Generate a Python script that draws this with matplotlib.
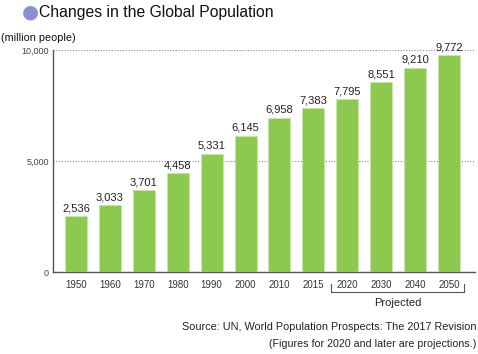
import matplotlib.pyplot as plt
import numpy as np

years = ['1950', '1960', '1970', '1980', '1990', '2000', '2010', '2015',
         '2020', '2030', '2040', '2050']
population = [2536, 3033, 3701, 4458, 5331, 6145, 6958, 7383,
              7795, 8551, 9210, 9772]
yticks = [0, 5000, 10000]
ytick_labels = ['0', '5,000', '10,000']

plt.rcParams['font.family'] = ['Liberation Sans', 'DejaVu Sans']

W, H = 478, 354
fig = plt.figure(figsize=(W / 100, H / 100), dpi=100)

# axes box in pixels
left, right, top, bottom = 53, 475, 50, 272
ax = fig.add_axes([left / W, 1 - bottom / H, (right - left) / W, (bottom - top) / H])

x = np.arange(len(years))
ax.bar(x, population, width=0.65, color='#8cc94f', edgecolor='#c8e6a8', linewidth=0.6, zorder=3)
for xi, v in zip(x, population):
    ax.text(xi, v + 120, f'{v:,}', ha='center', va='bottom', fontsize=8, color='#222222')

ax.set_xlim(-0.68, 11.77)
ax.set_ylim(0, 10000)
ax.set_yticks(yticks)
ax.set_yticklabels(ytick_labels, fontsize=6.5, color='#444444')
ax.set_xticks(x)
ax.set_xticklabels(years, fontsize=7, color='#333333')
ax.tick_params(axis='x', length=0, pad=6)
ax.tick_params(axis='y', length=0, pad=3)
ax.yaxis.grid(True, linestyle=(0, (1, 1.5)), color='#888888', linewidth=0.8, zorder=0)
for s in ['top', 'right']:
    ax.spines[s].set_visible(False)
ax.spines['left'].set_color('#555555')
ax.spines['bottom'].set_color('#555555')
ax.spines['left'].set_linewidth(1.0)
ax.spines['bottom'].set_linewidth(1.0)

# projected bracket
bx0, bx1 = 7.52, 11.45
by0, by1 = -0.055, -0.09
tr = ax.get_xaxis_transform()
ax.plot([bx0, bx0, bx1, bx1], [by0, by1, by1, by0], color='#555555', linewidth=0.8,
        transform=tr, clip_on=False)
ax.text((bx0 + bx1) / 2, -0.115, 'Projected', transform=tr, ha='center', va='top',
        fontsize=8, color='#222222')

# title
fig.text(30 / W, 1 - 12 / H, '\u25CF', color='#8a8fd2', fontsize=14, ha='center', va='center',
         family='DejaVu Sans')
fig.text(39 / W, 1 - 12 / H, 'Changes in the Global Population', fontsize=11.3,
         ha='left', va='center', color='#111111')
fig.text(1 / W, 1 - 38 / H, '(million people)', fontsize=7.8, ha='left', va='center', color='#111111')

fig.text(476 / W, 1 - 327 / H, 'Source: UN, World Population Prospects: The 2017 Revision',
         fontsize=7.8, ha='right', va='center', color='#222222')
fig.text(476 / W, 1 - 344 / H, '(Figures for 2020 and later are projections.)',
         fontsize=7.7, ha='right', va='center', color='#222222')

fig.savefig('out.png', dpi=100)
